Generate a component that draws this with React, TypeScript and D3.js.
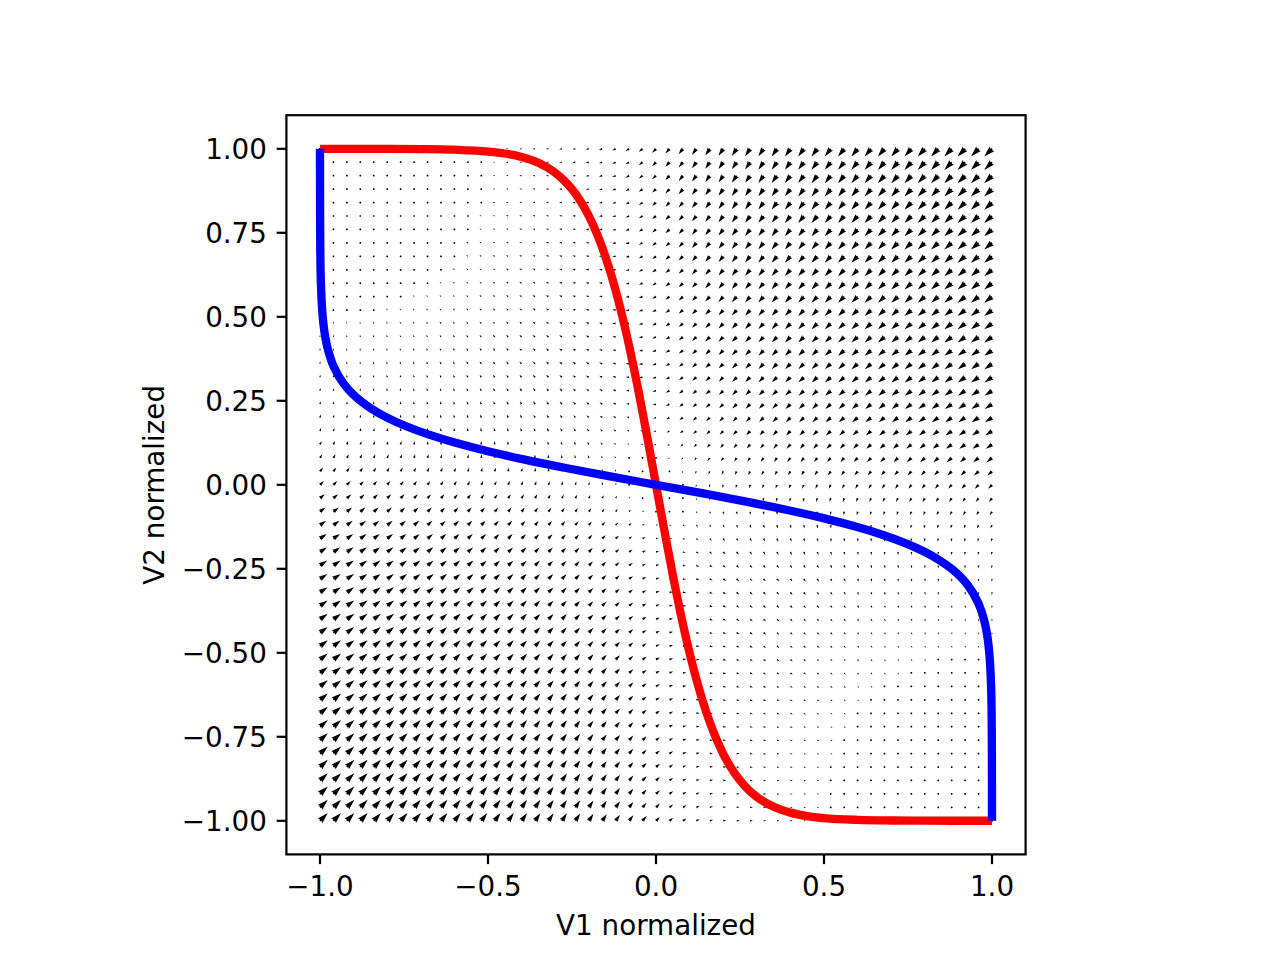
import React from "react";
import * as d3 from "d3";

// ---- data ----
const xTicks = [-1.0, -0.5, 0.0, 0.5, 1.0];
const yTicks = [-1.0, -0.75, -0.5, -0.25, 0.0, 0.25, 0.5, 0.75, 1.0];

// sample positions along the nullclines
const nullSamples = [
  -1.0, -0.9, -0.8, -0.7, -0.6, -0.5, -0.45, -0.4, -0.35, -0.3, -0.275, -0.25, -0.225, -0.2,
  -0.175, -0.15, -0.125, -0.1, -0.075, -0.05, -0.025, 0.0, 0.025, 0.05, 0.075, 0.1, 0.125,
  0.15, 0.175, 0.2, 0.225, 0.25, 0.275, 0.3, 0.35, 0.4, 0.45, 0.5, 0.6, 0.7, 0.8, 0.9, 1.0,
];
// blue nullcline: V1 value at V2 = nullSamples
const blueV1 = [
  0.99997, 0.9999, 0.9997, 0.9991, 0.9973, 0.9919, 0.986, 0.9757, 0.9584, 0.9289, 0.9074,
  0.8799, 0.8447, 0.8005, 0.7454, 0.6778, 0.5964, 0.5005, 0.3906, 0.2683, 0.1366, 0.0,
  -0.1366, -0.2683, -0.3906, -0.5005, -0.5964, -0.6778, -0.7454, -0.8005, -0.8447, -0.8799,
  -0.9074, -0.9289, -0.9584, -0.9757, -0.986, -0.9919, -0.9973, -0.9991, -0.9997, -0.9999,
  -0.99997,
];
// red nullcline: V2 value at V1 = nullSamples
const redV2 = [
  0.99997, 0.9999, 0.9997, 0.9991, 0.9973, 0.9919, 0.986, 0.9757, 0.9584, 0.9289, 0.9074,
  0.8799, 0.8447, 0.8005, 0.7454, 0.6778, 0.5964, 0.5005, 0.3906, 0.2683, 0.1366, 0.0,
  -0.1366, -0.2683, -0.3906, -0.5005, -0.5964, -0.6778, -0.7454, -0.8005, -0.8447, -0.8799,
  -0.9074, -0.9289, -0.9584, -0.9757, -0.986, -0.9919, -0.9973, -0.9991, -0.9997, -0.9999,
  -0.99997,
];
const gridCount = 51; // quiver grid points per axis, from -1 to 1

// ---- layout ----
const W = 1280;
const H = 960;
const axL = 286.4;
const axR = 1025.6;
const axT = 115.2;
const axB = 854.4;
const FONT = "'DejaVu Sans', sans-serif";
const FS = 27.78;
const SPINE = 2.22;
const TICK = 9.72;
const LW = 8.33;
const QW = 2.3; // quiver shaft width (px)
const QDOT = 2.0; // diameter of dots for very short vectors
const QK = 3.9; // px per unit of vector magnitude

const fmtMinus = (s: string) => s.replace("-", "\u2212");

export default function App() {
  const x = d3.scaleLinear().domain([-1.1, 1.1]).range([axL, axR]);
  const y = d3.scaleLinear().domain([-1.1, 1.1]).range([axB, axT]);

  // nullclines as library scales (piecewise-linear through the sampled points)
  const blueAt = d3.scaleLinear().domain(nullSamples).range(blueV1).clamp(true);
  const redAt = d3.scaleLinear().domain(nullSamples).range(redV2).clamp(true);

  const grid = d3.range(gridCount).map((i) => -1 + (2 * i) / (gridCount - 1));

  let quiverPath = "";
  for (const gv1 of grid) {
    for (const gv2 of grid) {
      const u = blueAt(gv2) - gv1;
      const v = redAt(gv1) - gv2;
      const mag = Math.hypot(u, v);
      const L = mag * QK;
      const gx = x(gv1);
      const gy = y(gv2);
      let pts: [number, number][];
      if (L < QDOT) {
        pts = d3.range(6).map((k) => {
          const th = (k * Math.PI) / 3;
          return [gx + Math.cos(th) * QDOT * 0.5, gy + Math.sin(th) * QDOT * 0.5] as [number, number];
        });
      } else {
        let local: [number, number][];
        if (L < 5 * QW) {
          const s = L / 5;
          local = [
            [0, 0.5], [0.5, 0.5], [0, 1.5], [5, 0], [0, -1.5], [0.5, -0.5], [0, -0.5],
          ].map(([a, b]) => [a * s, b * s] as [number, number]);
        } else {
          local = [
            [0, 0.5 * QW], [L - 4.5 * QW, 0.5 * QW], [L - 5 * QW, 1.5 * QW], [L, 0],
            [L - 5 * QW, -1.5 * QW], [L - 4.5 * QW, -0.5 * QW], [0, -0.5 * QW],
          ];
        }
        const ang = Math.atan2(-v, u);
        const c = Math.cos(ang);
        const sn = Math.sin(ang);
        pts = local.map(([a, b]) => [gx + a * c - b * sn, gy + a * sn + b * c] as [number, number]);
      }
      quiverPath += "M" + pts.map((p) => p[0].toFixed(2) + "," + p[1].toFixed(2)).join("L") + "Z";
    }
  }

  const bluePts = nullSamples.map((s, i) => [x(blueV1[i]), y(s)] as [number, number]);
  const blueD = d3.line().curve(d3.curveMonotoneY)(bluePts.slice().sort((a, b) => a[1] - b[1])) as string;
  const redPts = nullSamples.map((s, i) => [x(s), y(redV2[i])] as [number, number]);
  const redD = d3.line().curve(d3.curveMonotoneX)(redPts) as string;

  return (
    <svg
      width={W}
      height={H}
      style={{ position: "absolute", left: 0, top: 0, background: "#fff" }}
      fontFamily={FONT}
    >
      <rect x={0} y={0} width={W} height={H} fill="#fff" />
      <defs>
        <clipPath id="axclip">
          <rect x={axL} y={axT} width={axR - axL} height={axB - axT} />
        </clipPath>
      </defs>
      <g clipPath="url(#axclip)">
        <path d={quiverPath} fill="#000" stroke="none" />
        <path d={redD} fill="none" stroke="#ff0000" strokeWidth={LW} strokeLinecap="butt" />
        <path d={blueD} fill="none" stroke="#0000ff" strokeWidth={LW} strokeLinecap="butt" />
      </g>
      <rect
        x={axL}
        y={axT}
        width={axR - axL}
        height={axB - axT}
        fill="none"
        stroke="#000"
        strokeWidth={SPINE}
      />
      {xTicks.map((t) => (
        <g key={"x" + t}>
          <line x1={x(t)} x2={x(t)} y1={axB} y2={axB + TICK} stroke="#000" strokeWidth={SPINE} />
          <text x={x(t)} y={axB + 42} fontSize={FS} textAnchor="middle" fill="#000">
            {fmtMinus(d3.format(".1f")(t))}
          </text>
        </g>
      ))}
      {yTicks.map((t) => (
        <g key={"y" + t}>
          <line x1={axL - TICK} x2={axL} y1={y(t)} y2={y(t)} stroke="#000" strokeWidth={SPINE} />
          <text x={axL - TICK - 9.72} y={y(t) + 10.3} fontSize={FS} textAnchor="end" fill="#000">
            {fmtMinus(d3.format(".2f")(t))}
          </text>
        </g>
      ))}
      <text x={(axL + axR) / 2} y={935} fontSize={FS} textAnchor="middle" fill="#000">
        V1 normalized
      </text>
      <text
        transform={`translate(164,${(axT + axB) / 2}) rotate(-90)`}
        fontSize={FS}
        textAnchor="middle"
        fill="#000"
      >
        V2 normalized
      </text>
    </svg>
  );
}
